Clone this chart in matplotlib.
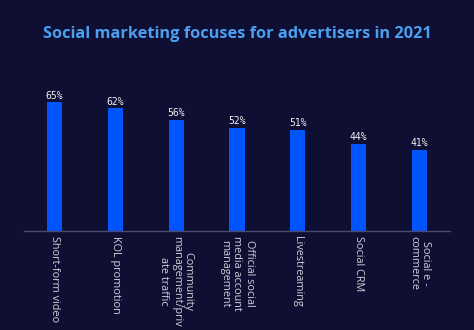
import numpy as np
import matplotlib
matplotlib.use('Agg')
import matplotlib.pyplot as plt

# data
categories = ['Short-form video', 'KOL promotion',
              'Community\nmanagement/priv\nate traffic',
              'Official social\nmedia account\nmanagement',
              'Livestreaming', 'Social CRM', 'Social e -\ncommerce']
shares = [65, 62, 56, 52, 51, 44, 41]

bg = '#0f0e33'
fig = plt.figure(figsize=(4.74, 3.30), dpi=100, facecolor=bg)
ax = fig.add_axes([24/474, 99.5/330, 426/474, 148/330], facecolor=bg)

x = np.arange(len(categories))
ax.bar(x, shares, width=0.25, color='#0055ff')

for xi, v in zip(x, shares):
    ax.text(xi, v + 0.8, f'{v}%', ha='center', va='bottom', color='#f0f0f0',
            fontsize=7, family='DejaVu Sans Mono')

ax.set_xlim(-0.5, 6.5)
ax.set_ylim(0, 75)
ax.set_xticks(x)
ax.set_xticklabels(categories, rotation=270, ha='center', va='top',
                   color='#d0d0d8', fontsize=7.8, family='Open Sans',
                   linespacing=1.15, multialignment='center')
ax.tick_params(axis='x', length=0, pad=4)
ax.set_yticks([])
for s in ['top', 'left', 'right']:
    ax.spines[s].set_visible(False)
ax.spines['bottom'].set_color('#4a4a6e')
ax.spines['bottom'].set_linewidth(1)

fig.text(0.5, 1 - 34/330, 'Social marketing focuses for advertisers in 2021',
         ha='center', va='center', color='#4a9ff0', fontsize=11.8,
         fontweight='bold', family='Open Sans')

fig.savefig('out.png', dpi=100, facecolor=bg)
